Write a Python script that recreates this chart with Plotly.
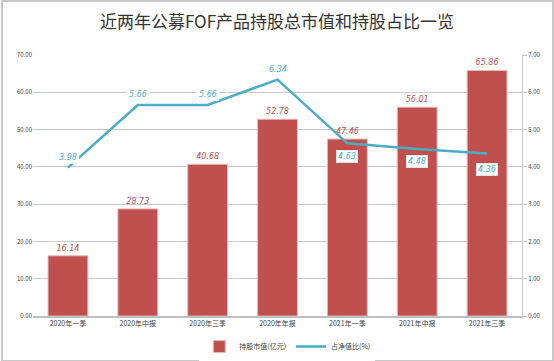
import plotly.graph_objects as go

categories = ["2020年一季", "2020年中报", "2020年三季", "2020年年报", "2021年一季", "2021年中报", "2021年三季"]
market_value = [16.14, 28.73, 40.68, 52.78, 47.46, 56.01, 65.86]
nav_ratio = [3.98, 5.66, 5.66, 6.34, 4.63, 4.48, 4.36]
left_ticks = [0, 10, 20, 30, 40, 50, 60, 70]
right_ticks = [0, 1, 2, 3, 4, 5, 6, 7]

BAR = "#c0504d"
LINE = "#4bacc6"
FONT = "Noto Sans CJK SC, Noto Sans, sans-serif"

fig = go.Figure()
fig.add_trace(go.Bar(
    x=categories, y=market_value, name="持股市值(亿元)",
    marker=dict(color=BAR, line=dict(color="#e6b9b8", width=1)),
    width=0.57,
    text=[f"{v:.2f}" for v in market_value], textposition="outside",
    textfont=dict(color=BAR, size=8, family="DejaVu Sans", style="italic"),
    cliponaxis=False,
))
label_top = [True, True, True, True, False, False, False]
fig.add_trace(go.Scatter(
    x=categories, y=nav_ratio, name="占净值比(%)", yaxis="y2",
    mode="lines",
    line=dict(color=LINE, width=2.5),
    cliponaxis=False,
))
for i, (c, v, t) in enumerate(zip(categories, nav_ratio, label_top)):
    fig.add_annotation(x=c, y=v, yref="y2", text=f"{v:.2f}", showarrow=False,
                       yshift=10 if t else (-16 if i == 6 else -13),
                       bgcolor="white", borderpad=1,
                       bordercolor="white" if t else "#e4e4e4", borderwidth=1,
                       font=dict(color=LINE, size=8, family="DejaVu Sans", style="italic"))

# outer frame
fig.add_shape(type="rect", xref="paper", yref="paper",
              x0=-0.0634, x1=1.0634, y0=-0.172, y1=1.207,
              line=dict(color="#c8c8c8", width=2), layer="below")

fig.update_layout(
    width=554, height=361,
    margin=dict(l=33, r=32, t=55, b=45, autoexpand=False),
    paper_bgcolor="white", plot_bgcolor="white",
    title=dict(text="近两年公募FOF产品持股总市值和持股占比一览", x=0.5, xanchor="center",
               y=0.94, yanchor="middle",
               font=dict(size=17, color="#333333", family=FONT)),
    font=dict(family=FONT, size=7, color="#404040"),
    showlegend=True,
    legend=dict(orientation="h", x=0.52, xanchor="center", yref="container", y=0.04,
                yanchor="middle",
                font=dict(size=7, color="#404040"), itemwidth=30),
    xaxis=dict(showgrid=False, showline=True, linecolor="#bfbfbf", linewidth=2,
               tickfont=dict(size=7, color="#404040"), ticks="", automargin=False),
    yaxis=dict(range=[0, 70], tickvals=left_ticks, tickformat=".2f",
               showgrid=True, gridcolor="#c8c8c8", gridwidth=1, zeroline=False,
               tickfont=dict(size=6, color="#404040"), ticks="", ticklen=0,
               automargin=False),
    yaxis2=dict(range=[0, 7], tickvals=right_ticks, tickformat=".2f", overlaying="y",
                side="right", showgrid=False, zeroline=False, showline=True,
                linecolor="#c8c8c8", linewidth=1, ticks="outside", ticklen=4,
                tickcolor="#c8c8c8", automargin=False,
                tickfont=dict(size=6, color="#404040")),
    bargap=0.43,
)
fig.write_html("out.html", config={"displayModeBar": False},
               post_script="document.body.style.margin='0';document.body.style.overflow='hidden';")
